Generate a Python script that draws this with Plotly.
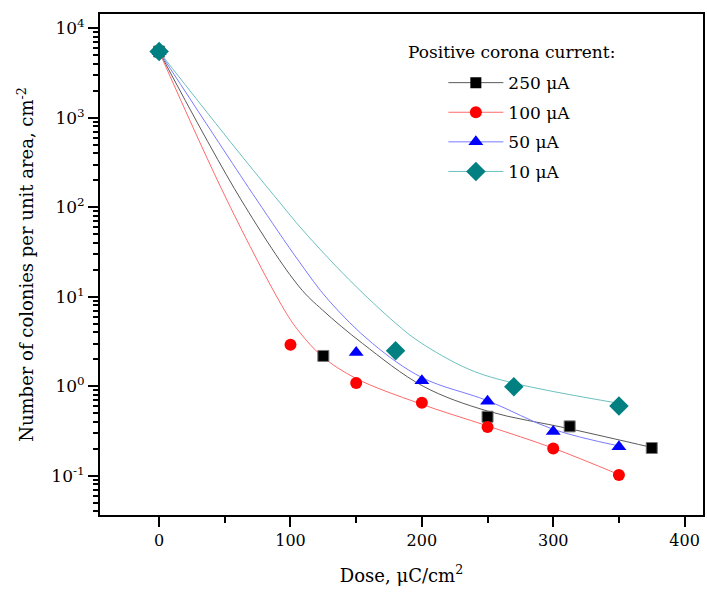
import plotly.graph_objects as go

FONT = "DejaVu Serif"

# ---- measured data points ----
names = ["250 \u03bcA", "100 \u03bcA", "50 \u03bcA", "10 \u03bcA"]
dose_250 = [0, 125, 250, 312.5, 375]
val_250 = [5500, 2.18, 0.456, 0.356, 0.204]
dose_100 = [0, 100, 150, 200, 250, 300, 350]
val_100 = [5500, 2.91, 1.09, 0.654, 0.35, 0.202, 0.102]
dose_50 = [0, 150, 200, 250, 300, 350]
val_50 = [5500, 2.39, 1.15, 0.68, 0.313, 0.211]
dose_10 = [0, 180, 270, 350]
val_10 = [5500, 2.49, 0.99, 0.60]

# ---- fitted curves ----
fit_dose_250 = [0, 62.5, 106.7, 124.5, 154.8, 201, 250, 312.5, 375]
fit_val_250 = [5500, 120.5, 12.9, 7.08, 3.01, 1.0, 0.528, 0.335, 0.207]
fit_dose_100 = [0, 51.6, 95.4, 106.7, 124.4, 149.8, 197.8, 250, 300, 350]
fit_val_100 = [5500, 120.5, 7.1, 4.06, 2.14, 1.225, 0.644, 0.36, 0.203, 0.103]
fit_dose_50 = [0, 49.1, 74.4, 106.7, 128.9, 162.4, 200.3, 250, 300, 350]
fit_val_50 = [5500, 437, 120.5, 24.6, 9.18, 3.01, 1.245, 0.69, 0.33, 0.215]
fit_dose_10 = [0, 59.2, 90.3, 109.3, 144.7, 180.1, 197.8, 235.7, 270.4, 350]
fit_val_10 = [5500, 437, 120.5, 55.7, 15.5, 5.05, 3.16, 1.55, 1.08, 0.644]

symbols = ["square", "circle", "triangle-up", "diamond"]
marker_colors = ["#000000", "#ff0000", "#0000ff", "#008080"]
line_colors = ["#5a5a5a", "#ff6a6a", "#7a7aff", "#6cc0c0"]
marker_sizes = [11, 12, 13, 15]

y_tickvals = [0.1, 1, 10, 100, 1000, 10000]
y_ticktext = ["10<sup>-1</sup>", "10<sup>0</sup>", "10<sup>1</sup>", "10<sup>2</sup>",
              "10<sup>3</sup>", "10<sup>4</sup>"]
x_tickvals = [0, 100, 200, 300, 400]

series = [
    (dose_250, val_250, fit_dose_250, fit_val_250),
    (dose_100, val_100, fit_dose_100, fit_val_100),
    (dose_50, val_50, fit_dose_50, fit_val_50),
    (dose_10, val_10, fit_dose_10, fit_val_10),
]

fig = go.Figure()
for i, (dx, dy, fx, fy) in enumerate(series):
    fig.add_trace(go.Scatter(
        x=fx, y=fy, mode="lines", line=dict(color=line_colors[i], width=1, shape="spline", smoothing=1.0),
        showlegend=False, hoverinfo="skip"))
for i, (dx, dy, fx, fy) in enumerate(series):
    fig.add_trace(go.Scatter(
        x=dx, y=dy, mode="markers",
        marker=dict(symbol=symbols[i], size=marker_sizes[i], color=marker_colors[i],
                    line=dict(color="#777777" if i == 0 else marker_colors[i], width=1 if i == 0 else 0)),
        showlegend=False))
for i in range(4):
    fig.add_trace(go.Scatter(
        x=[None], y=[None], mode="lines+markers", name=names[i], legendgroup=str(i),
        line=dict(color=line_colors[i], width=1),
        marker=dict(symbol=symbols[i], size=marker_sizes[i], color=marker_colors[i],
                    line=dict(width=0))))

minor_y = [k * 10 ** e for e in range(-2, 5) for k in range(2, 10)]
minor_y = [v for v in minor_y if 0.036 < v < 14500]

fig.update_layout(
    width=707, height=595,
    margin=dict(l=100, r=2, t=14, b=80),
    paper_bgcolor="white", plot_bgcolor="white",
    font=dict(family=FONT, color="black", size=16),
    legend=dict(
        x=0.5694, y=0.898, xanchor="left", yanchor="top",
        bgcolor="rgba(0,0,0,0)",
        font=dict(family=FONT, size=17),
        tracegroupgap=4.5, itemwidth=55,
    ),
    annotations=[dict(
        text="Positive corona current:", xref="paper", yref="paper",
        x=0.5074, y=0.924, xanchor="left", yanchor="middle", showarrow=False,
        font=dict(family=FONT, size=17))],
    xaxis=dict(
        range=[-45, 414], tickvals=x_tickvals, ticks="outside", ticklen=10, tickwidth=1.5,
        tickcolor="black", showline=True, linecolor="black", linewidth=2, mirror=True,
        showgrid=False, zeroline=False, tickfont=dict(size=16),
        minor=dict(tickvals=[50, 150, 250, 350], ticks="outside", ticklen=6, tickwidth=1.5, tickcolor="black"),
        title=dict(text="Dose, \u03bcC/cm<sup>2</sup>", font=dict(size=18), standoff=20),
    ),
    yaxis=dict(
        type="log", range=[-1.439, 4.16], tickvals=y_tickvals, ticktext=y_ticktext,
        ticks="outside", ticklen=10, tickwidth=1.5, tickcolor="black",
        showline=True, linecolor="black", linewidth=2, mirror=True,
        showgrid=False, zeroline=False, tickfont=dict(size=17),
        minor=dict(tickvals=minor_y, ticks="outside", ticklen=5, tickwidth=1.5, tickcolor="black"),
        title=dict(text="Number of colonies per unit area, cm<sup>-2</sup>", font=dict(size=18), standoff=13),
    ),
)

fig.write_html("out.html")
